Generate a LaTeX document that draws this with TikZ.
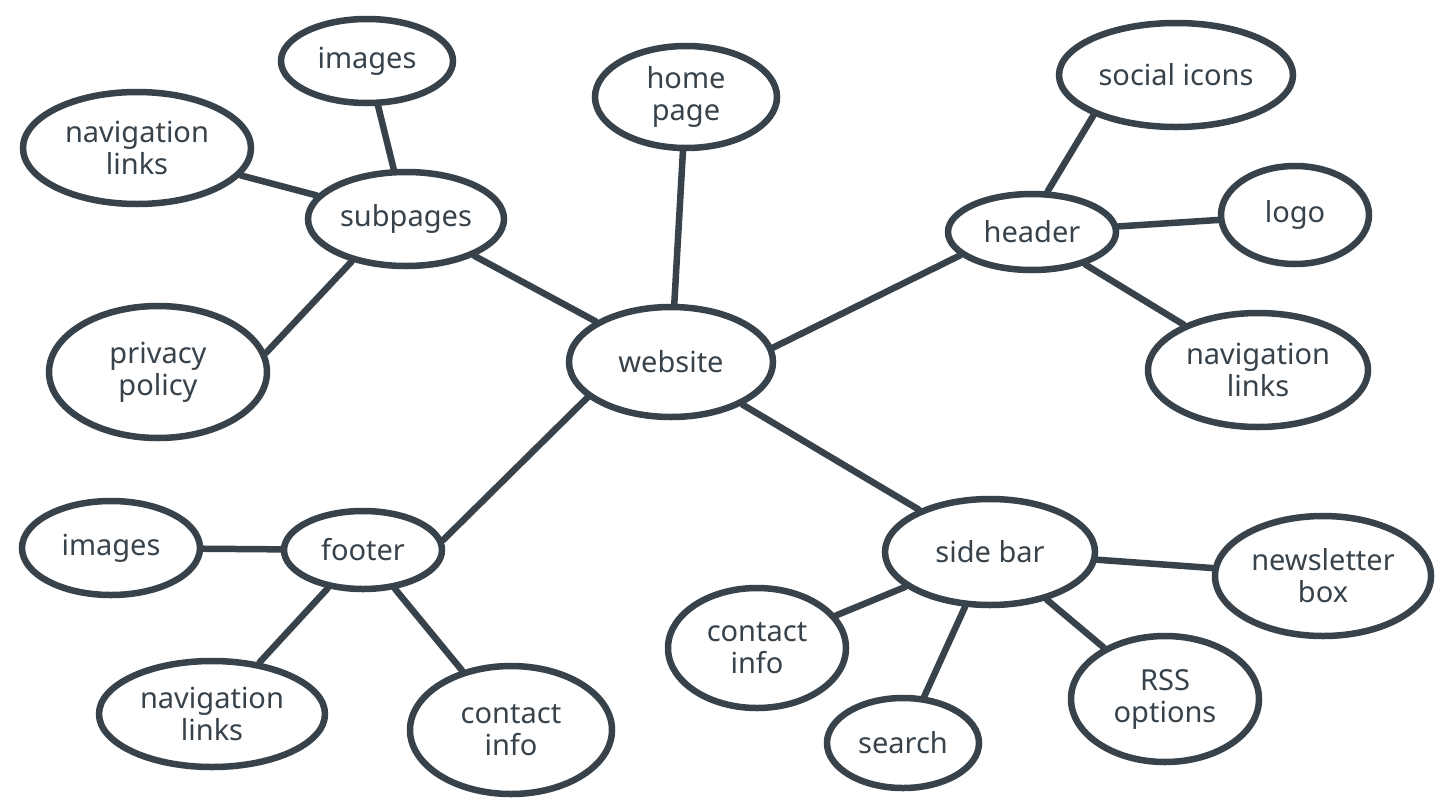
\documentclass[tikz,border=0pt]{standalone}
\usepackage{fontspec}
\setmainfont{Noto Sans}
\usetikzlibrary{shapes.geometric}
\definecolor{ink}{HTML}{37424B}
\newcommand{\bubfont}{\fontsize{29}{32}\selectfont}
\tikzset{
  bub/.style={draw=ink, text=ink, line width=6.5pt, ellipse, inner sep=0pt, align=center, font=\bubfont},
  link/.style={draw=ink, line width=6.5pt, line cap=round},
}
\newcommand{\bub}[6]{\node[bub, minimum width=#4pt, minimum height=#5pt] (#1) at (#2,#3) {#6};}
\begin{document}
\begin{tikzpicture}[x=1pt,y=-1pt]
\useasboundingbox[fill=white] (0,0) rectangle (1440,801);
\bub{web}{671}{362}{204}{110}{website}
\bub{home}{686}{97}{182}{102}{home\\page}
\bub{sub}{406}{219}{196}{94}{subpages}
\bub{img1}{367}{61}{172}{84}{images}
\bub{nav1}{137}{148}{228}{112}{navigation\\links}
\bub{priv}{158}{372}{218}{132}{privacy\\policy}
\bub{head}{1032}{232}{168}{76}{header}
\bub{soc}{1176}{75}{234}{104}{social icons}
\bub{logo}{1295}{215}{148}{98}{logo}
\bub{nav2}{1258}{370}{220}{114}{navigation\\links}
\bub{side}{990}{552}{210}{106}{side bar}
\bub{news}{1323}{576}{216}{120}{newsletter\\box}
\bub{con1}{757}{648}{178}{120}{contact\\info}
\bub{rss}{1165}{699}{188}{126}{RSS\\options}
\bub{search}{903}{743}{152}{90}{search}
\bub{foot}{363}{550}{158}{78}{footer}
\bub{img2}{111}{548}{178}{94}{images}
\bub{nav3}{212}{714}{226}{106}{navigation\\links}
\bub{con2}{511}{730}{202}{128}{contact\\info}
\draw[link] (web) -- (home);
\draw[link] (web) -- (sub);
\draw[link] (web.8) -- (head.198);
\draw[link] (web) -- (side);
\draw[link] (web.203) -- (foot.7);
\draw[link] (sub) -- (img1);
\draw[link] (sub) -- (nav1);
\draw[link] (sub.218) -- (priv.10);
\draw[link] (head.69) -- (soc.206);
\draw[link] (head) -- (logo);
\draw[link] (head) -- (nav2);
\draw[link] (side) -- (news);
\draw[link] (side) -- (con1);
\draw[link] (side) -- (rss);
\draw[link] (side) -- (search);
\draw[link] (foot) -- (img2);
\draw[link] (foot) -- (nav3);
\draw[link] (foot) -- (con2);
\end{tikzpicture}
\end{document}
